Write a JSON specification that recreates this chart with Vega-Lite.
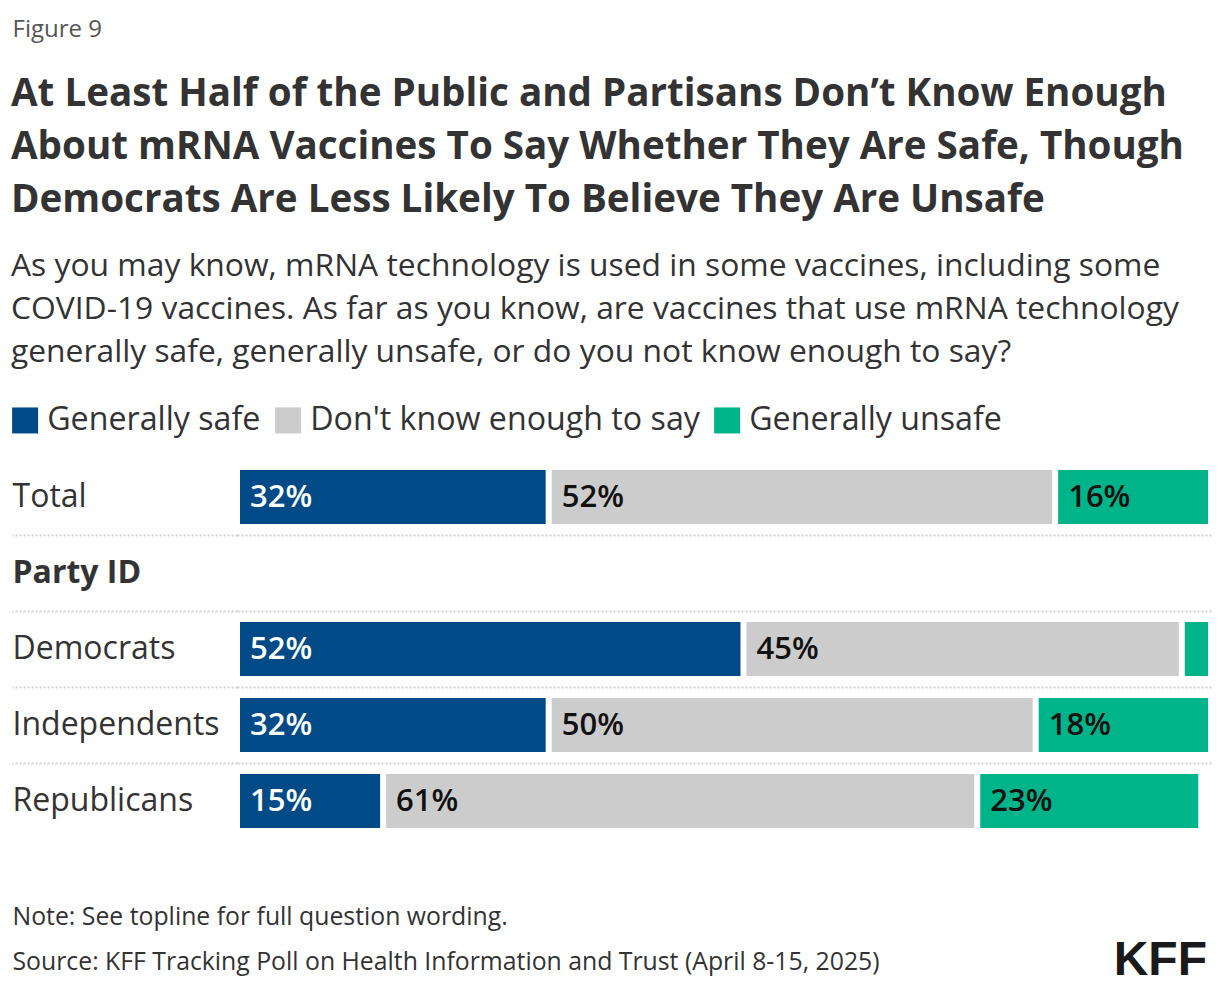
{
  "$schema": "https://vega.github.io/schema/vega-lite/v6.json",
  "width": 974,
  "height": 380,
  "autosize": {"type": "none"},
  "padding": {"left": 237, "top": 459, "right": 9, "bottom": 149},
  "background": "white",
  "config": {"view": {"stroke": null}, "font": "Open Sans"},
  "title": {
    "text": ["At Least Half of the Public and Partisans Don’t Know Enough", "About mRNA Vaccines To Say Whether They Are Safe, Though", "Democrats Are Less Likely To Believe They Are Unsafe"],
    "subtitle": ["As you may know, mRNA technology is used in some vaccines, including some", "COVID-19 vaccines. As far as you know, are vaccines that use mRNA technology", "generally safe, generally unsafe, or do you not know enough to say?"],
    "anchor": "start",
    "frame": "bounds",
    "orient": "top",
    "font": "Open Sans",
    "fontSize": 38.6,
    "fontWeight": "bold",
    "color": "#333333",
    "lineHeight": 53,
    "subtitleFont": "Open Sans",
    "subtitleFontSize": 31.8,
    "subtitleColor": "#333333",
    "subtitleLineHeight": 43,
    "subtitlePadding": 31,
    "offset": -353,
    "dx": 2
  },
  "data": {
    "values": [
      {"group": "Total", "response": "Generally safe", "value": 32},
      {"group": "Total", "response": "Don't know enough to say", "value": 52},
      {"group": "Total", "response": "Generally unsafe", "value": 16},
      {"group": "Democrats", "response": "Generally safe", "value": 52},
      {"group": "Democrats", "response": "Don't know enough to say", "value": 45},
      {"group": "Democrats", "response": "Generally unsafe", "value": 3},
      {"group": "Independents", "response": "Generally safe", "value": 32},
      {"group": "Independents", "response": "Don't know enough to say", "value": 50},
      {"group": "Independents", "response": "Generally unsafe", "value": 18},
      {"group": "Republicans", "response": "Generally safe", "value": 15},
      {"group": "Republicans", "response": "Don't know enough to say", "value": 61},
      {"group": "Republicans", "response": "Generally unsafe", "value": 23}
    ]
  },
  "layer": [
    {
      "transform": [
        {"calculate": "indexof(['Generally safe', 'Don\\'t know enough to say', 'Generally unsafe'], datum.response)", "as": "order"},
        {"stack": "value", "groupby": ["group"], "sort": [{"field": "order", "order": "ascending"}], "as": ["x0", "x1"]}
      ],
      "mark": {"type": "bar", "height": {"band": 0.71}, "xOffset": 3, "x2Offset": -3},
      "encoding": {
        "y": {
          "field": "group",
          "type": "nominal",
          "scale": {"domain": ["Total", "Party ID", "Democrats", "Independents", "Republicans"], "paddingInner": 0, "paddingOuter": 0},
          "axis": {
            "title": "Figure 9",
            "titleAngle": 0,
            "titleAlign": "left",
            "titleBaseline": "alphabetic",
            "titleX": -225,
            "titleY": -423,
            "titleFont": "Open Sans",
            "titleFontSize": 24,
            "titleFontWeight": "normal",
            "titleColor": "#555555",
            "domain": false,
            "ticks": true,
            "tickSize": 225,
            "tickColor": "#d0d0d0",
            "tickDash": [2, 2],
            "tickWidth": 2,
            "tickOpacity": {"condition": {"test": "datum.value === 'Total'", "value": 0}, "value": 1},
            "grid": true,
            "gridColor": "#d0d0d0",
            "gridDash": [2, 2],
            "gridWidth": 2,
            "gridOpacity": {"condition": {"test": "datum.value === 'Total'", "value": 0}, "value": 1},
            "bandPosition": 0,
            "labelAlign": "left",
            "labelBaseline": "middle",
            "labelPadding": 0,
            "labelFont": "Open Sans",
            "labelFontSize": 32,
            "labelColor": "#333333",
            "labelLimit": 400,
            "labelFontWeight": {"condition": {"test": "datum.value === 'Party ID'", "value": "bold"}, "value": "normal"}
          }
        },
        "x": {
          "field": "x0",
          "type": "quantitative",
          "scale": {"domain": [0, 100], "nice": false, "zero": true},
          "axis": {
            "title": ["Note: See topline for full question wording.", "Source: KFF Tracking Poll on Health Information and Trust (April 8-15, 2025)"],
            "labels": false,
            "ticks": false,
            "domain": false,
            "grid": false,
            "titleAnchor": "start",
            "titleAlign": "left",
            "titleX": -225,
            "titleY": 85,
            "titleBaseline": "alphabetic",
            "titleFont": "Open Sans",
            "titleFontSize": 24.8,
            "titleFontWeight": "normal",
            "titleColor": "#333333",
            "titleLineHeight": 45
          }
        },
        "x2": {"field": "x1"},
        "color": {
          "field": "response",
          "type": "nominal",
          "scale": {"domain": ["Generally safe", "Don't know enough to say", "Generally unsafe"], "range": ["#004b87", "#cccccc", "#00b48a"]},
          "legend": {
            "orient": "none",
            "legendX": -228,
            "legendY": -55,
            "direction": "horizontal",
            "title": null,
            "symbolType": "square",
            "symbolSize": 676,
            "symbolStrokeWidth": 0,
            "symbolOpacity": 1,
            "labelFont": "Open Sans",
            "labelFontSize": 32.2,
            "labelColor": "#333333",
            "labelOffset": 6,
            "columnPadding": 11,
            "labelLimit": 600
          }
        }
      }
    },
    {
      "transform": [
        {"calculate": "indexof(['Generally safe', 'Don\\'t know enough to say', 'Generally unsafe'], datum.response)", "as": "order"},
        {"stack": "value", "groupby": ["group"], "sort": [{"field": "order", "order": "ascending"}], "as": ["x0", "x1"]},
        {"filter": "datum.value >= 5"},
        {"calculate": "datum.value + '%'", "as": "label"}
      ],
      "mark": {"type": "text", "align": "left", "baseline": "middle", "dx": 13, "dy": 1, "font": "Open Sans", "fontSize": 31, "fontWeight": 600},
      "encoding": {
        "y": {"field": "group", "type": "nominal"},
        "x": {"field": "x0", "type": "quantitative"},
        "text": {"field": "label"},
        "color": {"condition": {"test": "datum.response === 'Generally safe'", "value": "#ffffff"}, "value": "#111111"}
      }
    },
    {
      "data": {"values": [{"logo": "KFF"}]},
      "mark": {"type": "text", "align": "right", "baseline": "alphabetic", "dx": -4, "dy": 136, "font": "Liberation Sans", "fontSize": 48, "fontWeight": "bold", "color": "#1a1a1a"},
      "encoding": {
        "x": {"datum": 100},
        "y": {"value": "height"},
        "text": {"field": "logo"}
      }
    }
  ]
}
